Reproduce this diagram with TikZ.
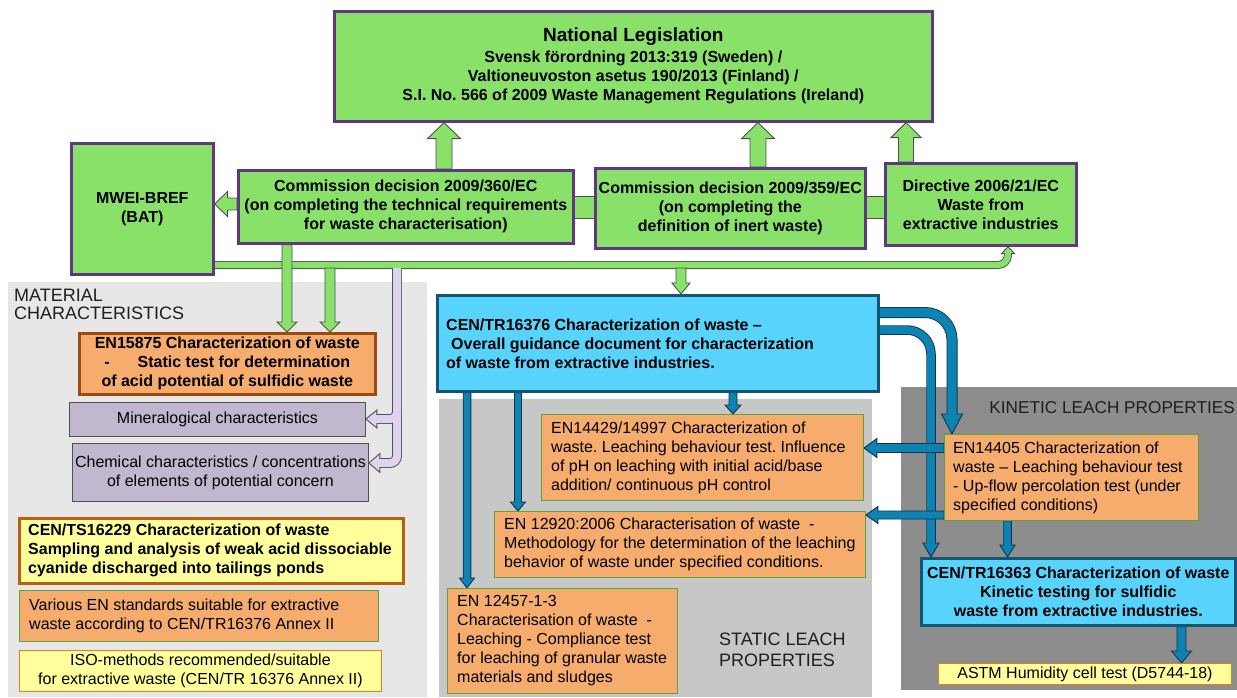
\documentclass[tikz,border=0pt]{standalone}
\usepackage{fontspec}
\setmainfont{Liberation Sans}
\usetikzlibrary{calc}
\definecolor{grn}{RGB}{137,225,105}
\definecolor{purp}{RGB}{96,56,130}
\definecolor{gline}{RGB}{80,80,80}
\definecolor{lavc}{RGB}{222,212,240}
\definecolor{lavbox}{RGB}{193,183,207}
\definecolor{orng}{RGB}{245,172,108}
\definecolor{brwn}{RGB}{155,75,15}
\definecolor{yel}{RGB}{255,255,155}
\definecolor{yelb}{RGB}{225,125,35}
\definecolor{ybrd}{RGB}{185,95,20}
\definecolor{thgrn}{RGB}{90,165,60}
\definecolor{cyn}{RGB}{88,212,252}
\definecolor{cynb}{RGB}{20,85,115}
\definecolor{blu}{RGB}{12,131,178}
\definecolor{blul}{RGB}{20,50,70}
\definecolor{pan1}{RGB}{231,231,231}
\definecolor{pan2}{RGB}{199,199,199}
\definecolor{pan3}{RGB}{141,141,141}
\definecolor{lbltext}{RGB}{30,30,30}
\pgfdeclarelayer{panels}
\pgfdeclarelayer{conn}
\pgfsetlayers{panels,conn,main}
\newcommand\fsn{\fontsize{16}{19}\selectfont}
% vertical block arrow: style, from, to, half shaft, half head, head length
\newcommand\vblk[6]{%
 \draw[#1] let \p1=(#2), \p2=(#3), \n1={((\y2)-(\y1))/abs((\y2)-(\y1))} in
 ({\x1-#4},{\y1}) -- ({\x1-#4},{\y2-(\n1)*#6}) -- ({\x1-#5},{\y2-(\n1)*#6}) -- ({\x1},{\y2})
 -- ({\x1+#5},{\y2-(\n1)*#6}) -- ({\x1+#4},{\y2-(\n1)*#6}) -- ({\x1+#4},{\y1}) -- cycle;}
% horizontal block arrow
\newcommand\hblk[6]{%
 \draw[#1] let \p1=(#2), \p2=(#3), \n1={((\x2)-(\x1))/abs((\x2)-(\x1))} in
 ({\x1},{\y1-#4}) -- ({\x2-(\n1)*#6},{\y1-#4}) -- ({\x2-(\n1)*#6},{\y1-#5}) -- ({\x2},{\y1})
 -- ({\x2-(\n1)*#6},{\y1+#5}) -- ({\x2-(\n1)*#6},{\y1+#4}) -- ({\x1},{\y1+#4}) -- cycle;}
\frenchspacing
\begin{document}
\begin{tikzpicture}[x=1pt,y=-1pt,
 box/.style={rectangle, anchor=north west, inner sep=0pt, font=\fsn},
 gbox/.style={box, fill=grn, draw=purp, line width=2.6pt, align=center, font=\fsn\bfseries},
 obox/.style={box, fill=orng, draw=thgrn, line width=0.9pt},
 obold/.style={box, fill=orng, draw=brwn, line width=2.6pt, align=center, font=\fsn\bfseries},
 lbox/.style={box, fill=lavbox, draw=gline, line width=0.9pt, align=center},
 ybold/.style={box, fill=yel, draw=ybrd, line width=2.6pt},
 ybox/.style={box, fill=yel, draw=yelb, line width=0.9pt, align=center},
 cbox/.style={box, fill=cyn, draw=cynb, line width=2.6pt, align=center, font=\fsn\bfseries},
 txt/.style={anchor=west, inner sep=0pt, align=left, font=\fsn},
 lbl/.style={anchor=west, inner sep=0pt, align=left, text=lbltext},
 garrow/.style={fill=grn, draw=gline, line width=0.9pt},
 barrow/.style={fill=blu, draw=blul, line width=0.9pt},
 larrow/.style={fill=lavc, draw=gline, line width=0.9pt},
 gband/.style={fill=grn, draw=gline, line width=0.9pt}]
\useasboundingbox (0,0) rectangle (1237,697);
% ---------- panels ----------
\begin{pgfonlayer}{panels}
\fill[white] (0,0) rectangle (1237,697);
\fill[pan1] (8,282) rectangle (427,697);
\fill[pan2] (439,399) rectangle (872,697);
\fill[pan3] (901,387) rectangle (1237,690);
\end{pgfonlayer}
\node[lbl, font=\fontsize{18}{18}\selectfont] (lmat) at (14,304) {MATERIAL\\CHARACTERISTICS};
\node[lbl, font=\fontsize{18}{21}\selectfont] (lstat) at (719,650) {STATIC LEACH\\PROPERTIES};
\node[lbl, anchor=east, font=\fontsize{17.2}{21}\selectfont] (lkin) at (1235,408) {KINETIC LEACH PROPERTIES};
% ---------- green boxes ----------
\node[gbox, minimum width=598, minimum height=110] (natleg) at (333,10)
 {{\fontsize{19}{22}\selectfont National Legislation}\\[2pt]Svensk förordning 2013:319 (Sweden) /\\Valtioneuvoston asetus 190/2013 (Finland) /\\S.I. No. 566 of 2009 Waste Management Regulations (Ireland)};
\node[gbox, minimum width=142, minimum height=131] (mwei) at (70,142) {MWEI-BREF\\(BAT)};
\node[gbox, minimum width=335, minimum height=73] (c360) at (237,169)
 {Commission decision 2009/360/EC\\(on completing the technical requirements\\for waste characterisation)};
\node[gbox, minimum width=270, minimum height=80] (c359) at (594,167)
 {Commission decision 2009/359/EC\\(on completing the\\definition of inert waste)};
\node[gbox, minimum width=191, minimum height=82] (dir) at (884,162)
 {Directive 2006/21/EC\\Waste from\\extractive industries};
% ---------- material characteristics ----------
\node[obold, minimum width=296, minimum height=61] (en15875) at (78,332)
 {EN15875 Characterization of waste\\-\hspace{28pt}Static test for determination\\of acid potential of sulfidic waste};
\node[lbox, minimum width=296, minimum height=34] (mineral) at (69,402) {Mineralogical characteristics};
\node[lbox, minimum width=296, minimum height=58] (chem) at (72,443)
 {Chemical characteristics / concentrations\\of elements of potential concern};
\node[ybold, minimum width=384, minimum height=65] (cents) at (18,517) {};
\node[txt, font=\fsn\bfseries] (tcents) at ($(cents.west)+(10,0)$)
 {CEN/TS16229 Characterization of waste\\Sampling and analysis of weak acid dissociable\\cyanide discharged into tailings ponds};
\node[obox, minimum width=359, minimum height=51] (various) at (19,590) {};
\node[txt] (tvarious) at ($(various.west)+(10,0)$)
 {Various EN standards suitable for extractive\\waste according to CEN/TR16376 Annex II};
\node[ybox, minimum width=362, minimum height=41] (iso) at (19,650)
 {ISO-methods recommended/suitable\\for extractive waste (CEN/TR 16376 Annex II)};
% ---------- CEN/TR16376 and static ----------
\node[cbox, minimum width=441, minimum height=96] (cen) at (436,294) {};
\node[txt, font=\fsn\bfseries] (tcen) at ($(cen.west)+(10,0)$)
 {CEN/TR16376 Characterization of waste –\\\hspace*{5pt}Overall guidance document for characterization\\of waste from extractive industries.};
\node[obox, minimum width=322, minimum height=86] (en14429) at (541,414) {};
\node[txt] (t14429) at ($(en14429.west)+(10,0)$)
 {EN14429/14997 Characterization of\\waste. Leaching behaviour test. Influence\\of pH on leaching with initial acid/base\\addition/ continuous pH control};
\node[obox, minimum width=371, minimum height=66] (en12920) at (494,511) {};
\node[txt] (t12920) at ($(en12920.west)+(10,0)$)
 {EN 12920:2006 Characterisation of waste\ \ -\\Methodology for the determination of the leaching\\behavior of waste under specified conditions.};
\node[obox, minimum width=230, minimum height=105] (en12457) at (447,588) {};
\node[txt] (t12457) at ($(en12457.west)+(10,0)$)
 {EN 12457-1-3\\Characterisation of waste\ \ -\\Leaching - Compliance test\\for leaching of granular waste\\materials and sludges};
% ---------- kinetic ----------
\node[obox, minimum width=254, minimum height=86] (en14405) at (944,434) {};
\node[txt] (t14405) at ($(en14405.west)+(9,0)$)
 {EN14405 Characterization of\\waste – Leaching behaviour test\\- Up-flow percolation test (under\\specified conditions)};
\node[cbox, minimum width=314, minimum height=67] (cts) at (920,557)
 {CEN/TR16363 Characterization of waste\\Kinetic testing for sulfidic\\waste from extractive industries.};
\node[ybox, minimum width=293, minimum height=21] (astm) at (938,663) {ASTM Humidity cell test (D5744-18)};
% ---------- helper coordinates ----------
\coordinate (xA) at (444,0);
\coordinate (xB) at (758,0);
\coordinate (xC) at (906,0);
\coordinate (yL) at (0,204);
\coordinate (yt) at (0,196);
\coordinate (yb) at (0,218);
\coordinate (ybar) at (0,265);
\coordinate (ybarb) at (0,268);
\coordinate (xup) at (1008,0);
\coordinate (x287) at (287,0);
\coordinate (x330) at (330,0);
\coordinate (x681) at (681,0);
\coordinate (xlav) at (397,0);
\coordinate (ymin) at (0,419);
\coordinate (ychem) at (0,463);
\coordinate (x467) at (467,0);
\coordinate (x518) at (518,0);
\coordinate (x733) at (733,0);
\coordinate (yb1) at (0,312.5);
\coordinate (xb1) at (952,0);
\coordinate (yb2) at (0,330);
\coordinate (xb2) at (931,0);
\coordinate (yl1) at (0,448);
\coordinate (yl2) at (0,515);
\coordinate (x1007) at (1007.5,0);
\coordinate (x1182) at (1181.5,0);
\coordinate (bars) at (mwei.east |- ybar);
\coordinate (barc) at (xup |- ybar);
\coordinate (bart) at (dir.south -| xup);
\coordinate (lavs) at (xlav |- ybarb);
\coordinate (lavm) at (xlav |- ymin);
\coordinate (lavmt) at (mineral.east |- ymin);
\coordinate (lavc2) at (xlav |- ychem);
\coordinate (lavct) at (chem.east |- ychem);
\coordinate (b1s) at (cen.east |- yb1);
\coordinate (b1c) at (xb1 |- yb1);
\coordinate (b1t) at (en14405.north -| xb1);
\coordinate (b2s) at (cen.east |- yb2);
\coordinate (b2c) at (xb2 |- yb2);
\coordinate (b2t) at (cts.north -| xb2);
% ---------- connectors ----------
\begin{pgfonlayer}{conn}
% green bands between boxes
\draw[gband] (c360.east |- yt) rectangle (c359.west |- yb);
\draw[gband] (c359.east |- yt) rectangle (dir.west |- yb);
% up arrows to national legislation
\vblk{garrow}{c360.north -| xA}{natleg.south -| xA}{8}{16.5}{16}
\vblk{garrow}{c359.north -| xB}{natleg.south -| xB}{8}{16.5}{16}
\vblk{garrow}{dir.north -| xC}{natleg.south -| xC}{7.5}{15}{15}
% left arrow to MWEI-BREF
\hblk{garrow}{c360.west |- yL}{mwei.east |- yL}{6}{12.5}{13}
% green bar to directive
\draw[line width=8pt, gline, rounded corners=10pt] (bars) -- (barc) -- ($(bart)+(0,7)$);
\draw[garrow] ($(bart)+(-6.5,7)$) -- (bart) -- ($(bart)+(6.5,7)$) -- cycle;
\draw[line width=6.2pt, grn, rounded corners=10pt] (bars) -- (barc) -- ($(bart)+(0,5.5)$);
% green down arrows
\vblk{garrow}{c360.south -| x287}{en15875.north -| x287}{5}{10}{10}
\vblk{garrow}{x330 |- ybarb}{en15875.north -| x330}{5}{10}{10}
\vblk{garrow}{x681 |- ybarb}{cen.north -| x681}{5}{9}{11}
% lavender connectors
\draw[line width=9.8pt, gline, rounded corners=7pt] (lavs) -- (lavm) -- ($(lavmt)+(11,0)$);
\draw[line width=9.8pt, gline, rounded corners=7pt] (lavs) -- (lavc2) -- ($(lavct)+(11,0)$);
\draw[larrow] ($(lavmt)+(11,-9)$) -- (lavmt) -- ($(lavmt)+(11,9)$) -- cycle;
\draw[larrow] ($(lavct)+(11,-9.5)$) -- (lavct) -- ($(lavct)+(11,9.5)$) -- cycle;
\draw[line width=8pt, lavc, rounded corners=7pt] (lavs) -- (lavm) -- ($(lavmt)+(9.5,0)$);
\draw[line width=8pt, lavc, rounded corners=7pt] (lavs) -- (lavc2) -- ($(lavct)+(9.5,0)$);
% blue straight arrows from CEN/TR16376
\vblk{barrow}{cen.south -| x467}{en12457.north -| x467}{3.8}{7.5}{10}
\vblk{barrow}{cen.south -| x518}{en12920.north -| x518}{3.5}{7.5}{9}
\vblk{barrow}{cen.south -| x733}{en14429.north -| x733}{4}{8}{9}
% blue bends
\draw[line width=11pt, blul, rounded corners=27pt] (b1s) -- (b1c) -- ($(b1t)+(0,-20)$);
\draw[barrow] ($(b1t)+(-10.5,-20)$) -- (b1t) -- ($(b1t)+(10.5,-20)$) -- cycle;
\draw[line width=9.2pt, blu, rounded corners=27pt] (b1s) -- (b1c) -- ($(b1t)+(0,-18.5)$);
\draw[line width=9.5pt, blul, rounded corners=24pt] (b2s) -- (b2c) -- ($(b2t)+(0,-14)$);
\draw[barrow] ($(b2t)+(-8,-14)$) -- (b2t) -- ($(b2t)+(8,-14)$) -- cycle;
\draw[line width=7.7pt, blu, rounded corners=24pt] (b2s) -- (b2c) -- ($(b2t)+(0,-12.5)$);
% blue arrows from EN14405
\hblk{barrow}{en14405.west |- yl1}{en14429.east |- yl1}{4.5}{9.5}{13}
\hblk{barrow}{en14405.west |- yl2}{en12920.east |- yl2}{4}{8.5}{12}
\vblk{barrow}{en14405.south -| x1007}{cts.north -| x1007}{3.8}{7.5}{12}
\vblk{barrow}{cts.south -| x1182}{astm.north -| x1182}{4.5}{10}{12}
\end{pgfonlayer}
\end{tikzpicture}
\end{document}
